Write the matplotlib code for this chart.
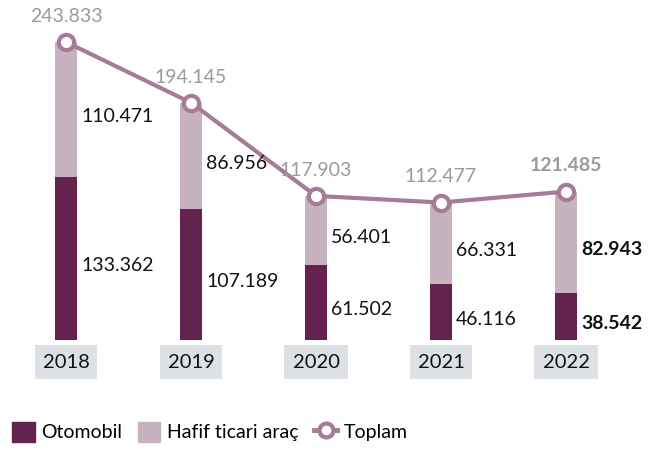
import matplotlib.pyplot as plt
from matplotlib.patches import Patch
from matplotlib.lines import Line2D

years = ["2018", "2019", "2020", "2021", "2022"]
otomobil = [133362, 107189, 61502, 46116, 38542]
hafif = [110471, 86956, 56401, 66331, 82943]
toplam = [243833, 194145, 117903, 112477, 121485]

def fmt(v):
    return f"{v:,}".replace(",", ".")

dark = "#64234f"
light = "#c7b2bf"
linec = "#a67b97"
plt.rcParams['font.family'] = ['Lato', 'DejaVu Sans']

fig = plt.figure(figsize=(6.49, 4.5), dpi=100)
ax = fig.add_axes([0, 0, 1, 1])
ax.set_xlim(-0.528, 4.664)
ax.set_ylim(-90000, 278200)
ax.axis("off")

x = list(range(len(years)))
w = 0.18
fs = 14
ax.bar(x, otomobil, width=w, color=dark, zorder=2)
ax.bar(x, hafif, width=w, bottom=otomobil, color=light, zorder=2)
ax.plot(x, toplam, color=linec, lw=3, marker="o", ms=11, mfc="white",
        mec=linec, mew=3, zorder=3)

for i in x:
    last = i == len(years) - 1
    wt = "bold" if last else "normal"
    ax.text(i + 0.12, otomobil[i] / 2 - 6000, fmt(otomobil[i]), fontsize=fs,
            va="center", ha="left", color="#111111", fontweight=wt)
    ax.text(i + 0.12, otomobil[i] + hafif[i] / 2 - 6000, fmt(hafif[i]), fontsize=fs,
            va="center", ha="left", color="#111111", fontweight=wt)
    ax.text(i, toplam[i] + 14000, fmt(toplam[i]), fontsize=fs, ha="center",
            va="bottom", color="#9a9a9a", fontweight=wt)
    ax.text(i, -18000, years[i], fontsize=14.5, ha="center", va="center",
            color="#111111",
            bbox=dict(boxstyle="square,pad=0.4", fc="#dde1e6", ec="none"))

handles = [Patch(color=dark), Patch(color=light),
           Line2D([], [], color=linec, lw=3.5, marker="o", ms=10, mfc="white",
                  mec=linec, mew=3)]
ax.legend(handles, ["Otomobil", "Hafif ticari araç", "Toplam"], ncol=3,
          loc="lower left", bbox_to_anchor=(-0.008, -0.02), frameon=False,
          fontsize=14, handlelength=1.15, handleheight=1.15, handletextpad=0.35,
          columnspacing=0.8)

fig.savefig("out.png", dpi=100)
